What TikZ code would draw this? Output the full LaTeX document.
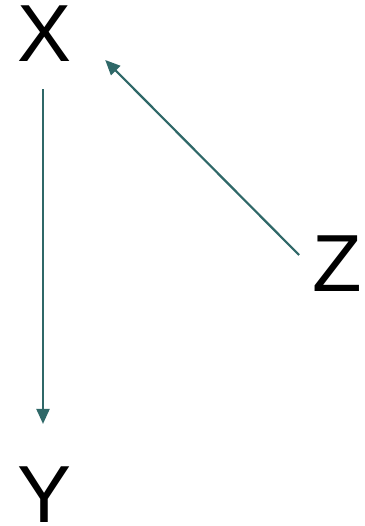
\documentclass[tikz,border=0pt]{standalone}
\usepackage{fontspec}
\setmainfont{Liberation Sans}
\usetikzlibrary{arrows.meta}

\begin{document}
\begin{tikzpicture}[x=1pt,y=1pt,
	var/.style={inner sep=0pt,font=\fontsize{81}{90}\selectfont},
	link/.style={draw={rgb,255:red,47;green,104;blue,104},line width=2.2pt,-{Triangle[length=15pt,width=13pt]}}]
	\useasboundingbox (0,0) rectangle (364,526);
	\node[var] (X) at (45,492) {X};
	\node[var] (Y) at (45,31) {Y};
	\node[var] (Z) at (337,262) {Z};
	\draw[link,shorten <=27pt,shorten >=43pt] ([xshift=-2pt]X.south) -- ([xshift=-2pt]Y.north);
	\draw[link] ([shift={(-13,9)}]Z.west) -- ([shift={(33,-26)}]X.east);
\end{tikzpicture}
\end{document}
